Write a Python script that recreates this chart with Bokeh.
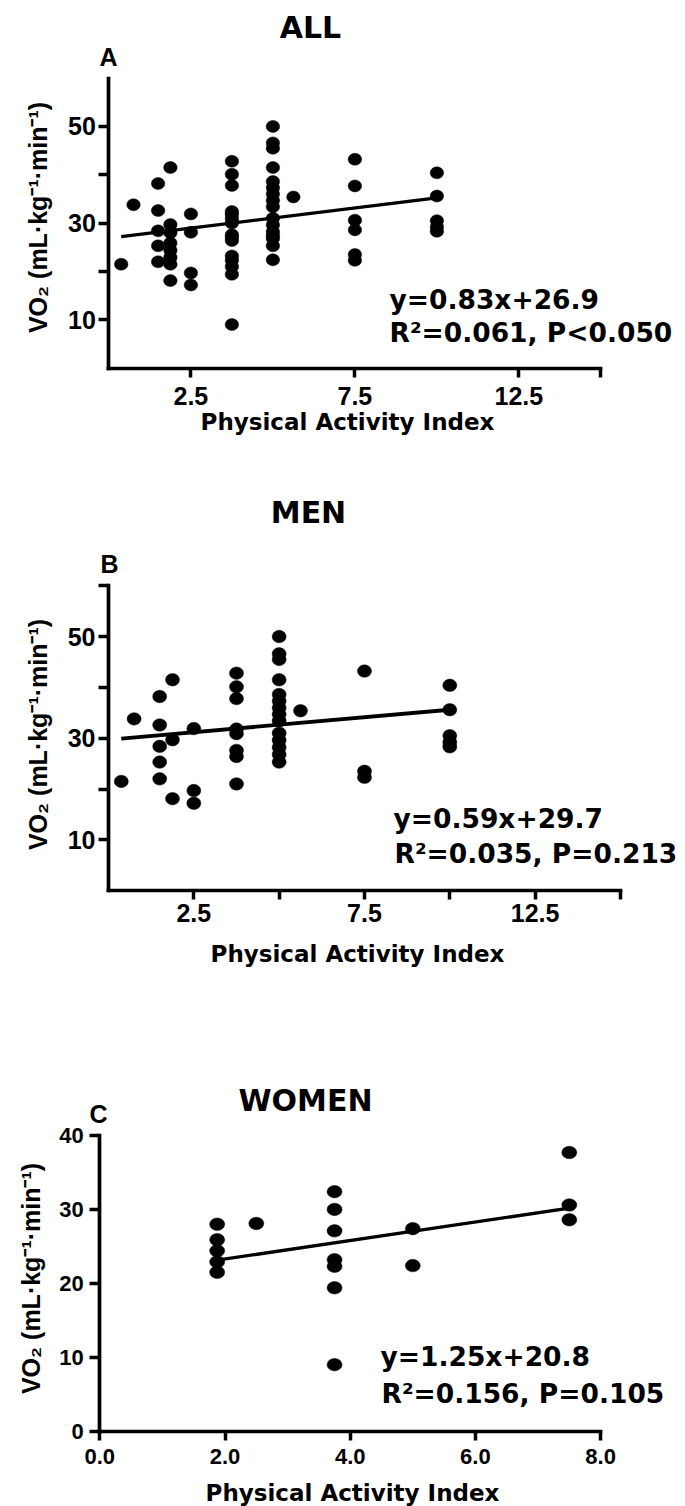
import numpy as np
from bokeh.plotting import figure
from bokeh.layouts import column
from bokeh.models import ColumnDataSource, FixedTicker, Label, PrintfTickFormatter
from bokeh.embed import file_html
from bokeh.resources import INLINE

# ---------------- data ----------------
men_pai = [0.375, 0.75,
           1.5, 1.5, 1.5, 1.5, 1.5,
           1.875, 1.875, 1.875,
           2.5, 2.5, 2.5,
           3.75, 3.75, 3.75, 3.75, 3.75, 3.75, 3.75, 3.75,
           5, 5, 5, 5, 5, 5, 5, 5, 5, 5, 5, 5, 5, 5,
           5.625,
           7.5, 7.5, 7.5,
           10, 10, 10, 10, 10]
men_vo2 = [21.5, 33.8,
           38.2, 32.6, 28.4, 25.3, 22.0,
           41.5, 29.7, 18.1,
           31.9, 19.7, 17.2,
           42.8, 40.1, 37.8, 31.8, 30.9, 27.6, 26.4, 21.0,
           50.0, 46.6, 45.5, 41.5, 38.6, 37.3, 36.0, 34.7, 33.4, 31.0, 29.6, 28.2, 26.8, 25.3,
           35.4,
           43.2, 23.5, 22.3,
           40.4, 35.6, 30.5, 29.2, 28.3]
women_pai = [1.875, 1.875, 1.875, 1.875, 1.875,
             2.5,
             3.75, 3.75, 3.75, 3.75, 3.75, 3.75, 3.75,
             5, 5,
             7.5, 7.5, 7.5]
women_vo2 = [28.0, 25.9, 24.4, 22.9, 21.5,
             28.1,
             32.4, 30.0, 27.1, 23.2, 22.3, 19.4, 9.0,
             27.4, 22.4,
             37.7, 30.6, 28.6]
all_pai = men_pai + women_pai
all_vo2 = men_vo2 + women_vo2

panel_titles = ["ALL", "MEN", "WOMEN"]
panel_letters = ["A", "B", "C"]
fit_slopes = [0.83, 0.59, 1.25]
fit_intercepts = [26.9, 29.7, 20.8]
eq_texts = ["y=0.83x+26.9", "y=0.59x+29.7", "y=1.25x+20.8"]
stat_texts = ["R\u00b2=0.061, P<0.050", "R\u00b2=0.035, P=0.213", "R\u00b2=0.156, P=0.105"]
x_title = "Physical Activity Index"
y_title = "VO\u2082 (mL\u00b7kg\u207b\u00b9\u00b7min\u207b\u00b9)"

x_ticks_ab = [2.5, 7.5, 12.5]
x_ticks_c = [0, 2, 4, 6, 8]
y_ticks_ab = [10, 30, 50]
y_ticks_c = [0, 10, 20, 30, 40]
x_axis_span_ab = (0, 15)
y_axis_span_ab = (0, 60)
x_axis_span_c = (0, 8)
y_axis_span_c = (0, 40)

series_x = [all_pai, men_pai, women_pai]
series_y = [all_vo2, men_vo2, women_vo2]

# ---------------- layout (page pixel positions of text baselines) ----------------
W = 685
BASE_K = 0.33  # rendered baseline sits about this many ems below the anchor
panels = [
    dict(top=0, height=470, ox=108.4, oy=367.6, sx=32.8, sy=4.833,
         xspan=x_axis_span_ab, yspan=y_axis_span_ab,
         xmaj=x_ticks_ab, xmin=[15], ymaj=y_ticks_ab, ymin=[20, 40],
         xfmt=None, title=(310, 37), letter=(99, 65), eq=(389, 308), stat=(389, 341),
         xt=(347, 429), yt=(46, 217), dot=(13.5, 12), lw=3.3, tfs="25px", xstand=10, ystand=3),
    dict(top=470, height=515, ox=108, oy=890.2, sx=34.13, sy=5.083,
         xspan=x_axis_span_ab, yspan=y_axis_span_ab,
         xmaj=x_ticks_ab, xmin=[5, 10, 15], ymaj=y_ticks_ab, ymin=[20, 40, 60],
         xfmt=None, title=(308, 521.5), letter=(100, 571.5), eq=(393, 827), stat=(394, 862),
         xt=(357, 961), yt=(46, 734), dot=(14, 12.5), lw=3.8, tfs="25px", xstand=4, ystand=3),
    dict(top=985, height=521, ox=99.3, oy=1430.7, sx=62.6, sy=7.3925,
         xspan=x_axis_span_c, yspan=y_axis_span_c,
         xmaj=x_ticks_c, xmin=[], ymaj=y_ticks_c, ymin=[],
         xfmt="%.1f", title=(305, 1110), letter=(89, 1122), eq=(380, 1365), stat=(381, 1402),
         xt=(352, 1500), yt=(39, 1278), dot=(15, 12.5), lw=3.4, tfs="22px", xstand=9, ystand=6),
]

figs = []
for i, L in enumerate(panels):
    ox, oy, sx, sy = L["ox"], L["oy"], L["sx"], L["sy"]
    xr = ((0 - ox) / sx, (W - ox) / sx)
    yr = ((oy - (L["top"] + L["height"])) / sy, (oy - L["top"]) / sy)

    p = figure(width=W, height=L["height"], x_range=xr, y_range=yr,
               output_backend="svg", toolbar_location=None, title=None,
               min_border_left=0, min_border_right=0, min_border_top=0, min_border_bottom=0)
    p.grid.visible = False
    p.outline_line_color = None
    p.background_fill_color = "white"
    p.border_fill_color = "white"

    def dx(px):
        return (px - ox) / sx

    def dy(py):
        return (oy - py) / sy

    # axes, fixed at the data origin and limited to the drawn span
    for ax in (p.xaxis[0], p.yaxis[0]):
        ax.axis_line_width = 3.7
        ax.axis_line_cap = "square"
        ax.major_tick_line_width = 3.5
        ax.minor_tick_line_width = 3.5
        ax.major_tick_in = 0
        ax.minor_tick_in = 0
        ax.major_label_text_font = "Liberation Sans"
        ax.major_label_text_font_style = "bold"
        ax.major_label_text_font_size = L["tfs"]
        ax.major_label_text_color = "black"
        ax.axis_line_color = "black"
        ax.major_tick_line_color = "black"
        ax.minor_tick_line_color = "black"
    p.xaxis.fixed_location = 0
    p.yaxis.fixed_location = 0
    p.xaxis.bounds = L["xspan"]
    p.yaxis.bounds = L["yspan"]
    p.xaxis.ticker = FixedTicker(ticks=L["xmaj"], minor_ticks=L["xmin"])
    p.yaxis.ticker = FixedTicker(ticks=L["ymaj"], minor_ticks=L["ymin"])
    p.xaxis.major_tick_out = 9
    p.xaxis.minor_tick_out = 9
    p.yaxis.major_tick_out = 10
    p.yaxis.minor_tick_out = 10
    p.xaxis.major_label_standoff = L["xstand"]
    p.yaxis.major_label_standoff = L["ystand"]
    if L["xfmt"]:
        p.xaxis.formatter = PrintfTickFormatter(format=L["xfmt"])

    # data
    src = ColumnDataSource(dict(x=series_x[i], y=series_y[i]))
    p.ellipse(x="x", y="y", width=L["dot"][0], height=L["dot"][1],
              width_units="screen", height_units="screen",
              fill_color="black", line_color="black", line_width=0.5, source=src)

    xs = np.array([min(series_x[i]), max(series_x[i])], dtype=float)
    ys = fit_slopes[i] * xs + fit_intercepts[i]
    p.line(xs, ys, line_color="black", line_width=L["lw"])

    # texts
    def add_text(pos, text, font, size, align="left", vertical=False):
        shift = BASE_K * size
        if vertical:
            px, py, ang = pos[0] - shift, pos[1], np.pi / 2
        else:
            px, py, ang = pos[0], pos[1] - shift, 0.0
        p.add_layout(Label(x=dx(px), y=dy(py), text=text, angle=ang,
                           text_align=align, text_baseline="alphabetic",
                           text_font=font, text_font_style="bold", text_font_size=f"{size}px",
                           text_color="black"))

    add_text(L["title"], panel_titles[i], "DejaVu Sans", 30, align="center")
    add_text(L["letter"], panel_letters[i], "Liberation Sans", 25)
    add_text(L["eq"], eq_texts[i], "DejaVu Sans", 26.5)
    add_text(L["stat"], stat_texts[i], "DejaVu Sans", 26.5)
    add_text(L["xt"], x_title, "DejaVu Sans", 23, align="center")
    add_text(L["yt"], y_title, "Liberation Sans", 25, align="center", vertical=True)
    figs.append(p)

layout = column(*figs, spacing=0)
open("out.html", "w").write(file_html(layout, INLINE))
